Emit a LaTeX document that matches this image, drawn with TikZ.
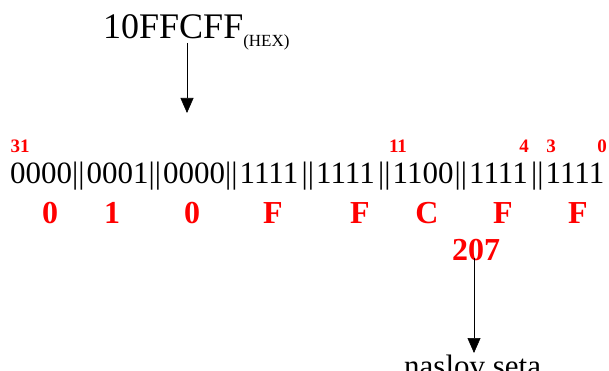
\documentclass[tikz,border=0pt]{standalone}
\usepackage{fontspec}
\setmainfont{Liberation Serif}
\usetikzlibrary{arrows.meta}

\begin{document}
\begin{tikzpicture}[x=1pt,y=-1pt]
                      \tikzstyle{bits}=[inner sep=0pt,anchor=base west,font=\fontsize{31}{31}\selectfont]
                      \tikzstyle{bitnum}=[inner sep=0pt,anchor=base,text=red,font=\fontsize{19}{19}\selectfont\bfseries]
                      \tikzstyle{hexdig}=[inner sep=0pt,anchor=base,text=red,font=\fontsize{32}{32}\selectfont\bfseries]
                      \tikzstyle{pointer}=[semithick,-{Triangle[width=13pt,length=15pt]}]
                      \useasboundingbox (0,0) rectangle (609,371);
                      \node[inner sep=0pt,anchor=base west,font=\fontsize{36}{36}\selectfont] (adr) at (103,39) {10FFCFF\raisebox{-8pt}{\fontsize{17}{17}\selectfont(HEX)}};
                      \coordinate (t1) at (187,113);
                      \draw[pointer] ([yshift=-4pt]adr.base -| t1) -- (t1);
                      \foreach \g [count=\i from 0] in {0000,0001,0000,1111,1111,1100,1111,1111}
                        \node[bits] (g\i) at (10+76.5*\i,184) {\g};
                      \foreach \i in {0,...,6}
                        \node[bits] (b\i) at (72+76.5*\i,184) {||};
                      \node[bitnum] (n31) at (20,153) {31};
                      \node[bitnum] (n11) at (398,153) {11};
                      \node[bitnum] (n4) at (524,153) {4};
                      \node[bitnum] (n3) at (551,153) {3};
                      \node[bitnum] (n0) at (602,153) {0};
                      \foreach \h/\x in {0/50,1/112,0/192,F/273,F/360,C/427,F/503,F/578}
                        \node[hexdig] at (\x,223) {\h};
                      \node[hexdig] (set) at (476,260) {207};
                      \node[bits] (nas) at (404,376) {naslov seta};
                      \coordinate (t2) at (474,353);
                      \draw[pointer] ([yshift=2pt]set.base -| t2) -- (t2);
                  \end{tikzpicture}
\end{document}
